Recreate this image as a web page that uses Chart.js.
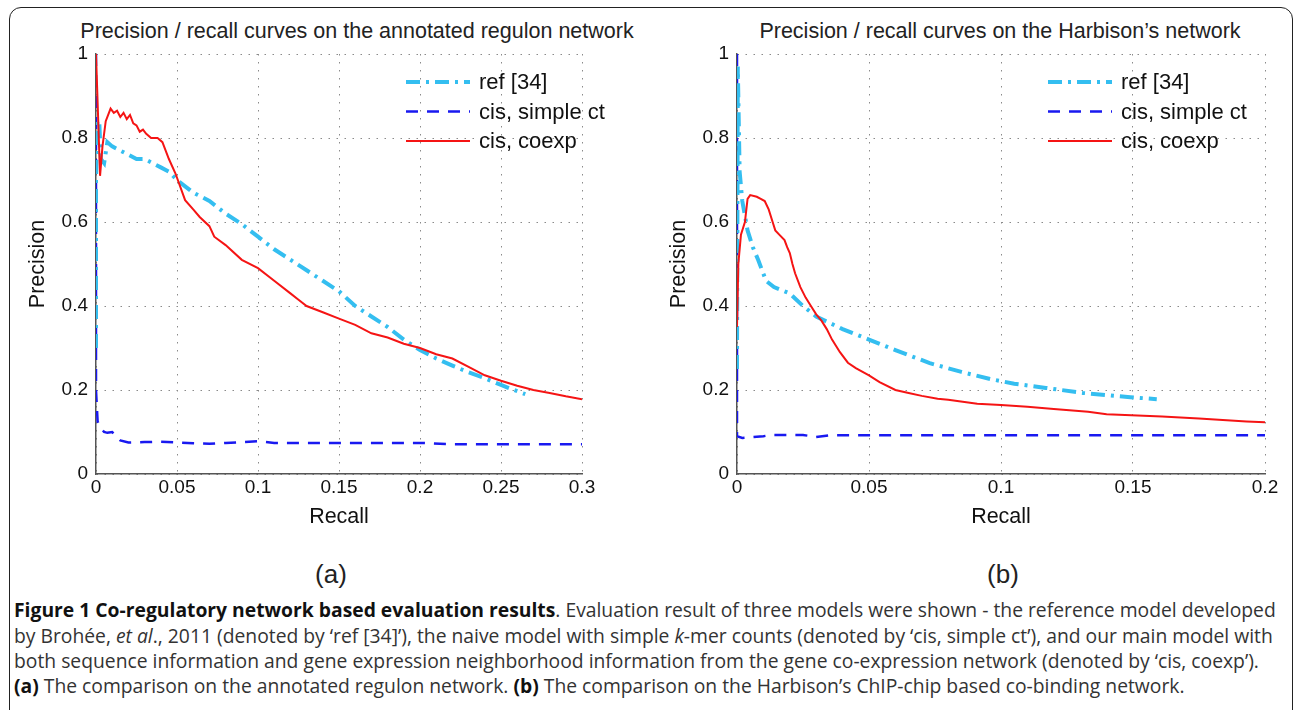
<!DOCTYPE html>
<html>
<head>
<meta charset="utf-8">
<script src="https://cdn.jsdelivr.net/npm/chart.js@4"></script>
<style>
  body { margin: 0; background: #fff; width: 1293px; height: 710px; overflow: hidden; position: relative; font-family: 'Liberation Sans', Arial, sans-serif; }
  .frame { position: absolute; left: 9px; top: 7px; width: 1284px; height: 730px; border: 1.5px solid #222; border-radius: 12px; box-sizing: border-box; }
  .ttl { position: absolute; top: 19px; font-size: 21.5px; color: #222; white-space: nowrap; transform: translateX(-50%); }
  .panel { position: absolute; top: 559px; font-size: 26px; color: #222; transform: translateX(-50%); }
  #wrapA { position: absolute; left: 0; top: 0; width: 641px; height: 540px; }
  #wrapB { position: absolute; left: 641px; top: 0; width: 652px; height: 540px; }
  .cap { position: absolute; left: 14px; font-family: 'Open Sans', sans-serif; font-size: 15px; line-height: 20px; color: #333; white-space: nowrap; }
  .cap b { color: #111; }
</style>
</head>
<body>
<div class="frame"></div>
<div class="ttl" style="left:357px">Precision / recall curves on the annotated regulon network</div>
<div class="ttl" style="left:1000px">Precision / recall curves on the Harbison’s network</div>
<div id="wrapA"><canvas id="chartA"></canvas></div>
<div id="wrapB"><canvas id="chartB"></canvas></div>
<div class="panel" style="left:331px">(a)</div>
<div class="panel" style="left:1003px">(b)</div>
<div class="cap" id="cap1" style="top:600px"><b>Figure 1 Co-regulatory network based evaluation results</b>. Evaluation result of three models were shown - the reference model developed</div>
<div class="cap" style="top:626px">by Brohée, <i>et al</i>., 2011 (denoted by ‘ref [34]’), the naive model with simple <i>k</i>-mer counts (denoted by ‘cis, simple ct’), and our main model with</div>
<div class="cap" style="top:651px">both sequence information and gene expression neighborhood information from the gene co-expression network (denoted by ‘cis, coexp’).</div>
<div class="cap" style="top:676px"><b>(a)</b> The comparison on the annotated regulon network. <b>(b)</b> The comparison on the Harbison’s ChIP-chip based co-binding network.</div>

<script>
// series labels
const seriesNames = ['ref [34]', 'cis, simple ct', 'cis, coexp'];

// tick values
const precisionTicks = [0, 0.2, 0.4, 0.6, 0.8, 1];
const recallTicksA = [0, 0.05, 0.1, 0.15, 0.2, 0.25, 0.3];
const recallTicksB = [0, 0.05, 0.1, 0.15, 0.2];

// (a) annotated regulon network: [recall, precision]
const refA = [[0,0.3],[0,0.7],[0.0008,0.84],[0.002,0.84],[0.003,0.75],[0.005,0.74],[0.007,0.79],[0.01,0.78],
  [0.015,0.77],[0.02,0.76],[0.025,0.75],[0.03,0.75],[0.035,0.74],[0.04,0.73],[0.045,0.72],[0.05,0.70],
  [0.055,0.685],[0.06,0.67],[0.065,0.66],[0.07,0.65],[0.08,0.62],[0.09,0.595],[0.1,0.565],[0.11,0.535],
  [0.12,0.51],[0.13,0.485],[0.14,0.46],[0.15,0.435],[0.16,0.40],[0.17,0.375],[0.18,0.35],[0.19,0.32],
  [0.2,0.295],[0.21,0.275],[0.22,0.258],[0.23,0.242],[0.24,0.228],[0.25,0.212],[0.258,0.2],[0.265,0.19]];
const simpleA = [[0,1.0],[0,0.2],[0.001,0.125],[0.003,0.11],[0.005,0.1],[0.007,0.098],[0.01,0.1],
  [0.015,0.08],[0.02,0.075],[0.03,0.076],[0.04,0.077],[0.05,0.075],[0.06,0.073],[0.07,0.072],[0.08,0.074],
  [0.1,0.078],[0.11,0.074],[0.15,0.074],[0.2,0.074],[0.22,0.071],[0.3,0.071]];
const coexpA = [[0,1.0],[0.0025,0.71],[0.004,0.78],[0.006,0.84],[0.009,0.87],[0.011,0.86],[0.013,0.865],
  [0.015,0.85],[0.017,0.86],[0.019,0.845],[0.021,0.855],[0.023,0.835],[0.025,0.83],[0.027,0.815],
  [0.029,0.82],[0.031,0.81],[0.034,0.80],[0.038,0.80],[0.041,0.79],[0.045,0.75],[0.049,0.716],
  [0.055,0.652],[0.06,0.63],[0.064,0.612],[0.07,0.59],[0.073,0.565],[0.08,0.545],[0.09,0.51],[0.1,0.49],
  [0.11,0.46],[0.12,0.43],[0.125,0.415],[0.13,0.40],[0.14,0.385],[0.15,0.37],[0.16,0.355],[0.17,0.335],
  [0.18,0.325],[0.19,0.31],[0.2,0.30],[0.21,0.285],[0.22,0.275],[0.23,0.255],[0.24,0.235],[0.25,0.222],
  [0.26,0.21],[0.27,0.20],[0.28,0.193],[0.29,0.185],[0.3,0.178]];

// (b) Harbison's network: [recall, precision]
const refB = [[0,0.25],[0.0003,0.97],[0.001,0.72],[0.002,0.65],[0.004,0.58],[0.006,0.54],[0.008,0.51],
  [0.011,0.46],[0.014,0.445],[0.02,0.43],[0.025,0.40],[0.03,0.375],[0.04,0.345],[0.05,0.32],[0.06,0.295],
  [0.073,0.264],[0.085,0.243],[0.096,0.226],[0.105,0.215],[0.117,0.205],[0.131,0.193],[0.149,0.183],[0.159,0.178]];
const simpleB = [[0,1.0],[0,0.09],[0.002,0.086],[0.006,0.088],[0.01,0.09],[0.013,0.093],[0.025,0.093],
  [0.03,0.088],[0.035,0.092],[0.2,0.092]];
const coexpB = [[0,0.35],[0.0005,0.5],[0.0015,0.57],[0.003,0.6],[0.004,0.655],[0.005,0.664],[0.0075,0.66],
  [0.009,0.655],[0.0105,0.65],[0.012,0.63],[0.0135,0.6],[0.0145,0.58],[0.016,0.57],[0.018,0.557],[0.019,0.54],
  [0.02,0.526],[0.021,0.5],[0.022,0.478],[0.024,0.445],[0.026,0.42],[0.028,0.40],[0.03,0.38],[0.032,0.365],
  [0.034,0.345],[0.036,0.32],[0.039,0.29],[0.042,0.265],[0.045,0.252],[0.05,0.235],[0.054,0.219],[0.06,0.2],
  [0.065,0.193],[0.07,0.186],[0.076,0.179],[0.08,0.177],[0.091,0.167],[0.1,0.164],[0.11,0.16],[0.12,0.155],
  [0.133,0.148],[0.14,0.142],[0.161,0.137],[0.175,0.132],[0.193,0.125],[0.2,0.123]];

Chart.defaults.font.family = "'Liberation Sans', Arial, sans-serif";
Chart.defaults.color = '#111';

const FONT = "'Liberation Sans', Arial, sans-serif";

// matlab style legend drawn inside the plot
const insideLegend = {
  id: 'insideLegend',
  afterDatasetsDraw(chart, args, opts) {
    const ctx = chart.ctx;
    ctx.save();
    ctx.font = '22px ' + FONT;
    ctx.textBaseline = 'middle';
    chart.data.datasets.forEach((ds, i) => {
      const y = opts.y + i * opts.gap;
      ctx.strokeStyle = ds.borderColor;
      ctx.lineWidth = ds.borderWidth;
      ctx.setLineDash(ds.borderDash || []);
      ctx.beginPath();
      ctx.moveTo(opts.x, y);
      ctx.lineTo(opts.x + 64, y);
      ctx.stroke();
      ctx.setLineDash([]);
      ctx.fillStyle = '#111';
      ctx.fillText(ds.label, opts.x + 73, y + 1);
    });
    ctx.restore();
  }
};

function toPts(arr) {
  return arr.map(p => ({ x: p[0], y: p[1] }));
}

function createPRChart(id, ref, simple, coexp, xTicks, padRight, legendX) {
  const ctx = document.getElementById(id).getContext('2d');
  return new Chart(ctx, {
    type: 'line',
    data: {
      datasets: [
        { label: seriesNames[0], data: toPts(ref), borderColor: 'rgb(52,190,240)', borderWidth: 4,
          borderDash: [14, 6, 3, 6], order: 1 },
        { label: seriesNames[1], data: toPts(simple), borderColor: 'rgb(25,25,240)', borderWidth: 2.5,
          borderDash: [12, 9], order: 2 },
        { label: seriesNames[2], data: toPts(coexp), borderColor: 'rgb(245,20,20)', borderWidth: 2,
          order: 0 },
      ],
    },
    options: {
      responsive: true,
      maintainAspectRatio: false,
      animation: false,
      elements: { point: { radius: 0 }, line: { tension: 0 } },
      layout: { padding: { left: 0, top: 54, right: padRight, bottom: 0 } },
      plugins: {
        legend: { display: false },
        tooltip: { enabled: false },
        insideLegend: { x: legendX, y: 82, gap: 29.5 },
      },
      scales: {
        x: {
          type: 'linear',
          min: xTicks[0],
          max: xTicks[xTicks.length - 1],
          afterBuildTicks: s => { s.ticks = xTicks.map(v => ({ value: v })); },
          afterFit: s => { s.height = 66; },
          ticks: { font: { size: 19 }, padding: 2, maxRotation: 0, callback: v => String(v) },
          grid: { color: '#8a8a8a', lineWidth: 1, drawTicks: false },
          border: { color: '#555', width: 1.5, dash: [1.5, 6.5] },
          title: { display: true, text: 'Recall', font: { size: 21.5 }, padding: { top: 0, bottom: 10 } },
        },
        y: {
          min: 0,
          max: 1,
          afterBuildTicks: s => { s.ticks = precisionTicks.map(v => ({ value: v })); },
          afterFit: s => { s.width = 96; },
          ticks: { font: { size: 19 }, padding: 8, callback: v => String(v) },
          grid: { color: '#8a8a8a', lineWidth: 1, drawTicks: false },
          border: { color: '#555', width: 1.5, dash: [1.5, 6.5] },
          title: { display: true, text: 'Precision', font: { size: 21.5 }, padding: { top: 25, bottom: 0 } },
        },
      },
    },
    plugins: [insideLegend],
  });
}

createPRChart('chartA', refA, simpleA, coexpA, recallTicksA, 59, 406);
createPRChart('chartB', refB, simpleB, coexpB, recallTicksB, 28, 407);

// fit caption font so the first line spans like the figure caption
const cap1 = document.getElementById('cap1');
const scale = 1263 / cap1.scrollWidth;
document.querySelectorAll('.cap').forEach(el => {
  el.style.fontSize = (15 * scale).toFixed(2) + 'px';
});
</script>
</body>
</html>
